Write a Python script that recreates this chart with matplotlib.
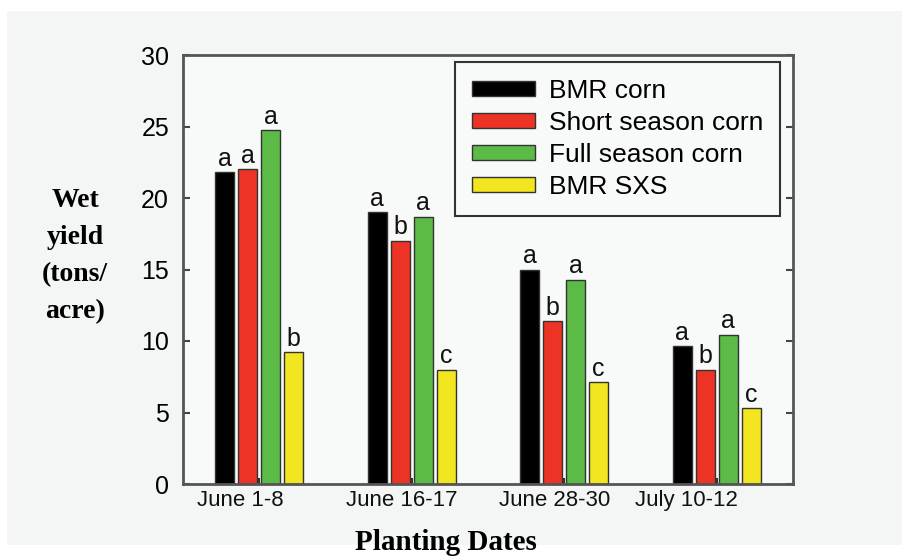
import numpy as np
import matplotlib.pyplot as plt
from matplotlib.patches import Rectangle
from matplotlib.transforms import blended_transform_factory

# planting date groups and wet yield (tons/acre) per crop
dates = ['June 1-8', 'June 16-17', 'June 28-30', 'July 10-12']
crops = ['BMR corn', 'Short season corn', 'Full season corn', 'BMR SXS']
bmr_corn = [21.8, 19.0, 15.0, 9.65]
short_season = [22.0, 17.0, 11.4, 8.0]
full_season = [24.75, 18.7, 14.3, 10.45]
bmr_sxs = [9.2, 8.0, 7.1, 5.3]
# mean separation letters
letters_bmr = ['a', 'a', 'a', 'a']
letters_short = ['a', 'b', 'b', 'b']
letters_full = ['a', 'a', 'a', 'a']
letters_sxs = ['b', 'c', 'c', 'c']

colors = ['#000000', '#ec3325', '#5cbb47', '#f1e61f']
series = [bmr_corn, short_season, full_season, bmr_sxs]
letters = [letters_bmr, letters_short, letters_full, letters_sxs]

plt.rcParams['font.family'] = ['Liberation Sans', 'DejaVu Sans']

fig = plt.figure(figsize=(9.03, 5.6), dpi=100)
fig.patch.set_facecolor('white')
# light grey panel behind the chart
panel = Rectangle((7/903, 15/560), 896/903, 534/560, transform=fig.transFigure,
                  facecolor='#f4f6f6', edgecolor='none', zorder=-10)
fig.add_artist(panel)

ax = fig.add_axes([183/903, 1 - 484/560, 610/903, 429/560])
ax.set_zorder(1)
ax.set_facecolor('#f8f9f9')

x = np.arange(len(dates))
width = 0.125
offsets = [-0.225, -0.075, 0.075, 0.225]
for vals, col, lab, lets, off in zip(series, colors, crops, letters, offsets):
    bars = ax.bar(x + off, vals, width, color=col, edgecolor='#333333', linewidth=1, label=lab, zorder=2)
    for b, l in zip(bars, lets):
        ax.text(b.get_x() + b.get_width()/2, b.get_height() + 0.1, l,
                ha='center', va='bottom', fontsize=18, color='#111111')

ax.set_xlim(-0.5, 3.5)
ax.set_ylim(0, 30)
ax.set_yticks(np.arange(0, 31, 5))
ax.tick_params(axis='y', direction='in', length=5, width=1.5, color='#444444',
               labelsize=18, right=True, pad=10)
ax.set_xticks(x)
ax.tick_params(axis='x', direction='in', length=4, width=1.5, color='#333333', labelbottom=False)
for s in ax.spines.values():
    s.set_color('#555555')
    s.set_linewidth(2)

# date labels under each group
trans = blended_transform_factory(ax.transData, ax.transAxes)
label_shift = [-0.125, -0.066, -0.066, -0.2]
for xi, d, sh in zip(x, dates, label_shift):
    ax.text(xi + sh, -0.015, d, transform=trans, ha='center', va='top', fontsize=16, color='#111111')

leg = ax.legend(loc='upper right', bbox_to_anchor=(0.979, 0.984), borderaxespad=0, fontsize=19,
                frameon=True, fancybox=False, edgecolor='#333333', facecolor='#f8f9f9', framealpha=1,
                handlelength=2.4, handleheight=0.5, handletextpad=0.5, labelspacing=0.3,
                borderpad=0.65)
leg.get_frame().set_linewidth(1.5)

fig.text(75/903, 1 - 256/560, 'Wet\nyield\n(tons/\nacre)', ha='center', va='center',
         fontsize=20, fontweight='bold', family='Liberation Serif', linespacing=1.62)
fig.text(446/903, 1 - 542/560, 'Planting Dates', ha='center', va='center',
         fontsize=21, fontweight='bold', family='Liberation Serif')

fig.savefig('out.png', dpi=100, facecolor=fig.get_facecolor())
